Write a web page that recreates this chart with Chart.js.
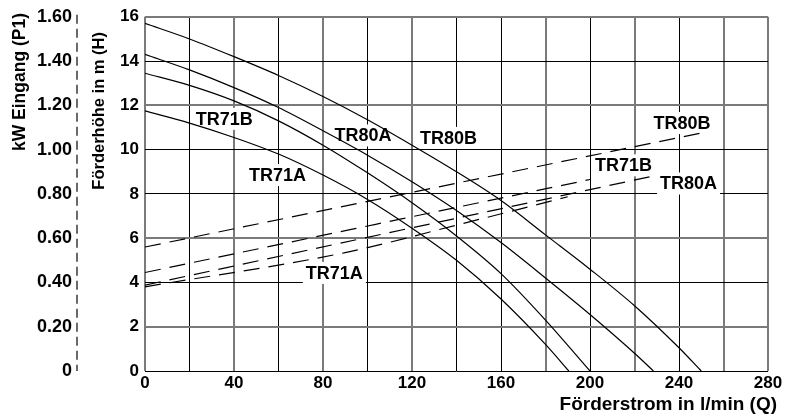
<!DOCTYPE html>
<html>
<head>
<meta charset="utf-8">
<script src="https://cdn.jsdelivr.net/npm/chart.js@4.4.0/dist/chart.umd.min.js"></script>
<style>
  html, body { margin: 0; padding: 0; background: #fff; }
  #wrap { width: 786px; height: 415px; position: relative; }
</style>
</head>
<body>
<div id="wrap"><canvas id="c"></canvas></div>
<script>
// ---- Data ----
// Pump head curves: Förderstrom Q (l/min) -> Förderhöhe H (m)
const qTR80B = [0, 20, 40, 60, 80, 100, 120, 140, 160, 180, 200, 220, 240, 250];
const hTR80B = [15.7, 15.0, 14.2, 13.35, 12.4, 11.35, 10.2, 9.0, 7.7, 6.15, 4.6, 2.95, 1.05, 0];

const qTR80A = [0, 20, 40, 60, 80, 100, 120, 140, 160, 180, 200, 220, 228.5];
const hTR80A = [14.3, 13.6, 12.8, 11.9, 10.85, 9.75, 8.55, 7.25, 5.8, 4.2, 2.55, 0.8, 0];

const qTR71B = [0, 20, 40, 60, 80, 100, 120, 140, 160, 180, 200];
const hTR71B = [13.45, 12.9, 12.2, 11.3, 10.2, 8.95, 7.6, 6.1, 4.4, 2.3, 0];

const qTR71A = [0, 20, 40, 60, 80, 100, 120, 140, 160, 180, 190.5];
const hTR71A = [11.75, 11.2, 10.55, 9.8, 8.85, 7.75, 6.45, 5.0, 3.25, 1.2, 0];

// Power input curves (dashed): Q (l/min) -> kW Eingang (P1)
const pqTR80B = [0, 250];            const pkwTR80B = [0.56, 1.075];
const pqTR71B = [0, 200];            const pkwTR71B = [0.445, 0.865];
const pqTR80A = [0, 229];            const pkwTR80A = [0.388, 0.882];
const pqTR71A = [0, 90, 142, 190];   const pkwTR71A = [0.38, 0.535, 0.664, 0.787];

// Tick labels
const xTickLabels  = ['0', '', '40', '', '80', '', '120', '', '160', '', '200', '', '240', '', '280'];
const hTickLabels  = ['0', '2', '4', '6', '8', '10', '12', '14', '16'];
const kwTickLabels = ['0', '0.20', '0.40', '0.60', '0.80', '1.00', '1.20', '1.40', '1.60'];

// Curve labels (text, Q, H)
const labelTexts = ['TR71B', 'TR71A', 'TR80A', 'TR80B', 'TR80B', 'TR71B', 'TR80A', 'TR71A'];
const labelQ     = [35.6, 59.6, 98.0, 136.4, 241.3, 215.1, 244.3, 85.1];
const labelH     = [11.39, 8.85, 10.64, 10.53, 11.2, 9.29, 8.47, 4.43];

// Axis titles
const titleX  = 'Förderstrom in l/min (Q)';
const titleH  = 'Förderhöhe in m (H)';
const titleKW = 'kW Eingang (P1)';

// ---- Helpers ----
const zip = (xs, ys) => xs.map((x, i) => ({ x: x, y: ys[i] }));
const FONT = '"Liberation Sans", Arial, Helvetica, sans-serif';

const solid = (name, qs, hs) => ({
  label: name, data: zip(qs, hs), yAxisID: 'y',
  borderColor: '#000', borderWidth: 1.2, pointRadius: 0, fill: false,
  cubicInterpolationMode: 'monotone'
});
const dashed = (name, qs, ks) => ({
  label: name + ' P1', data: zip(qs, ks), yAxisID: 'y2',
  borderColor: '#000', borderWidth: 1.2, pointRadius: 0, fill: false,
  borderDash: [16, 9], cubicInterpolationMode: 'monotone'
});

// grid styling: mimic darker-gray double lines vs thin black lines
const xGray = [0, 40, 80, 120, 180, 220, 260, 280];
const hGray = [16, 12, 6, 2];

const labelPlugin = {
  id: 'curveLabels',
  beforeDatasetsDraw(chart) {
    const { ctx, scales } = chart;
    ctx.save();
    ctx.font = 'bold 18px ' + FONT;
    ctx.textAlign = 'center';
    ctx.textBaseline = 'middle';
    for (let i = 0; i < labelTexts.length; i++) {
      const cx = scales.x.getPixelForValue(labelQ[i]);
      const cy = scales.y.getPixelForValue(labelH[i]);
      const w = ctx.measureText(labelTexts[i]).width;
      ctx.fillStyle = '#fff';
      ctx.fillRect(cx - w / 2 - 3, cy - 11, w + 6, 22);
      ctx.fillStyle = '#000';
      ctx.fillText(labelTexts[i], cx, cy + 1);
    }
    ctx.restore();
  },
  afterDraw(chart) {
    const { ctx, scales } = chart;
    // dashed kW axis line
    const s = scales.y2;
    ctx.save();
    ctx.strokeStyle = '#6a6a6a';
    ctx.lineWidth = 2;
    ctx.setLineDash([9, 5]);
    ctx.beginPath();
    ctx.moveTo(s.right - 1, s.top - 2);
    ctx.lineTo(s.right - 1, s.bottom);
    ctx.stroke();
    ctx.restore();

    ctx.save();
    ctx.fillStyle = '#000';
    ctx.textBaseline = 'middle';
    // kW title (rotated)
    ctx.save();
    ctx.font = 'bold 17.5px ' + FONT;
    ctx.translate(20.5, 13);
    ctx.rotate(-Math.PI / 2);
    ctx.textAlign = 'right';
    ctx.fillText(titleKW, 0, 0);
    ctx.restore();
    // H title (rotated)
    ctx.save();
    ctx.font = 'bold 16.5px ' + FONT;
    ctx.translate(99.5, 32);
    ctx.rotate(-Math.PI / 2);
    ctx.textAlign = 'right';
    ctx.fillText(titleH, 0, 0);
    ctx.restore();
    // Q title
    ctx.font = 'bold 19px ' + FONT;
    ctx.textAlign = 'right';
    ctx.fillText(titleX, 777, 405);
    ctx.restore();
  }
};

new Chart(document.getElementById('c'), {
  type: 'line',
  data: {
    datasets: [
      solid('TR80B', qTR80B, hTR80B),
      solid('TR80A', qTR80A, hTR80A),
      solid('TR71B', qTR71B, hTR71B),
      solid('TR71A', qTR71A, hTR71A),
      dashed('TR80B', pqTR80B, pkwTR80B),
      dashed('TR71B', pqTR71B, pkwTR71B),
      dashed('TR80A', pqTR80A, pkwTR80A),
      dashed('TR71A', pqTR71A, pkwTR71A)
    ]
  },
  options: {
    responsive: true,
    maintainAspectRatio: false,
    animation: false,
    devicePixelRatio: 1,
    layout: { padding: { top: 15, right: 18, left: 0, bottom: 0 } },
    plugins: { legend: { display: false }, tooltip: { enabled: false } },
    scales: {
      x: {
        type: 'linear', position: 'bottom', min: 0, max: 280,
        ticks: {
          stepSize: 20, autoSkip: false, maxRotation: 0, padding: 2,
          color: '#000', font: { family: FONT, size: 17, weight: 'bold' },
          callback: (v, i) => xTickLabels[i]
        },
        grid: {
          drawTicks: false,
          color: c => xGray.includes(c.tick.value) ? '#7a7a7a' : '#000',
          lineWidth: c => xGray.includes(c.tick.value) ? 2 : 1
        },
        border: { display: false },
        afterFit: s => { s.height = 44; }
      },
      y: {
        type: 'linear', position: 'left', min: 0, max: 16, weight: 0,
        ticks: {
          stepSize: 2, padding: 6, color: '#000',
          font: { family: FONT, size: 17, weight: 'bold' },
          callback: (v, i) => hTickLabels[i]
        },
        grid: {
          drawTicks: false,
          color: c => hGray.includes(c.tick.value) ? '#7a7a7a' : '#000',
          lineWidth: c => hGray.includes(c.tick.value) ? 2 : 1
        },
        border: { display: false },
        afterFit: s => { s.width = 67; }
      },
      y2: {
        type: 'linear', position: 'left', min: 0, max: 1.6, weight: 1,
        ticks: {
          stepSize: 0.2, padding: 6, color: '#000',
          font: { family: FONT, size: 18, weight: 'bold' },
          callback: (v, i) => kwTickLabels[i]
        },
        grid: { display: true, drawOnChartArea: false, drawTicks: false },
        border: { display: false },
        afterFit: s => { s.width = 78; }
      }
    }
  },
  plugins: [labelPlugin]
});
</script>
</body>
</html>
